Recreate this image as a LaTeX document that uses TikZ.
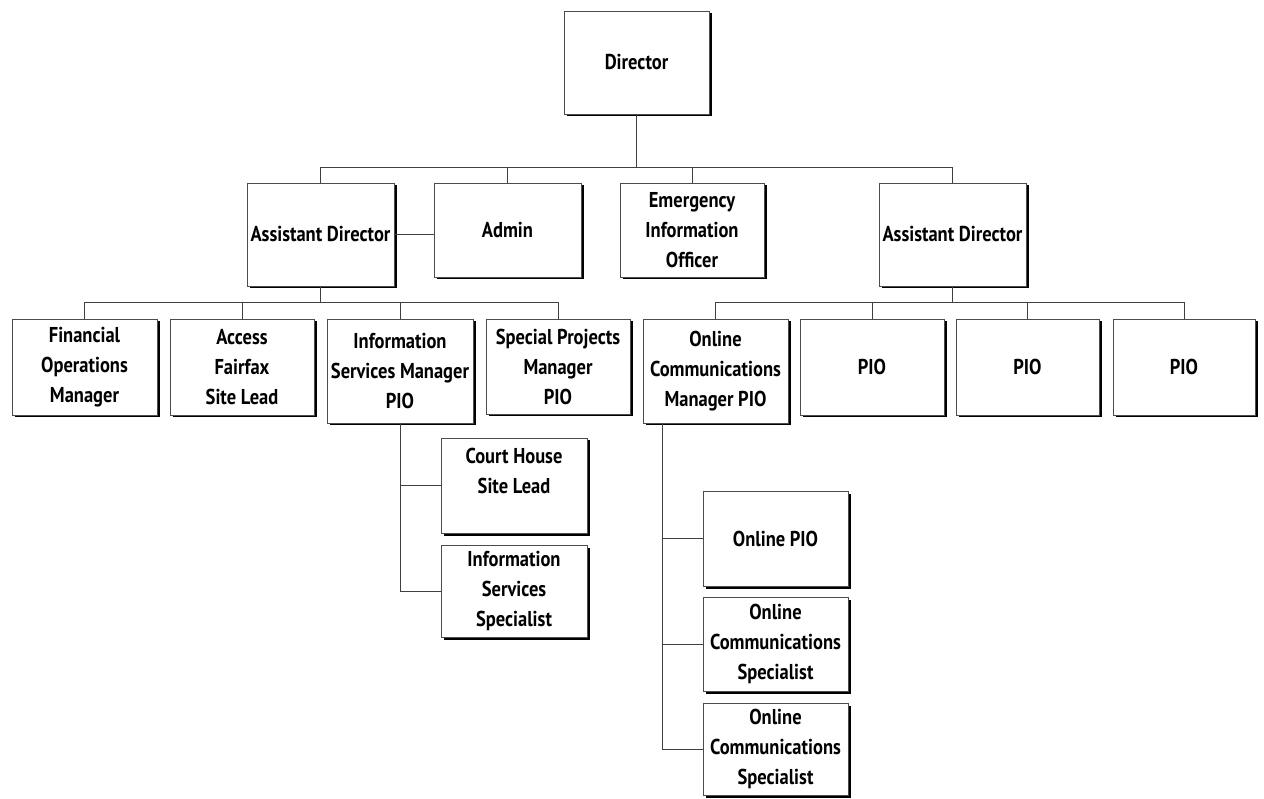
\documentclass[tikz,border=0pt]{standalone}
\usepackage{fontspec}
\setmainfont{PT Sans}[FakeStretch=0.86]
\usepackage{tikz}
\usetikzlibrary{positioning, calc, shadows}

\begin{document}
\begin{tikzpicture}[
  x=1pt, y=-1pt,
  unit/.style={rectangle, draw=black!70, line width=0.8pt, fill=white, align=center, inner sep=0pt, font=\fontsize{21.5}{30}\selectfont\bfseries, drop shadow={shadow xshift=2.5pt, shadow yshift=-2.5pt, fill=black, opacity=1}},
  tall/.style={unit, minimum width=147pt, minimum height=103pt},
  mid/.style={unit, minimum width=145pt, minimum height=95pt},
  deep/.style={unit, minimum width=145pt, minimum height=104pt},
  link/.style={draw=black!75, line width=0.8pt}
]
\useasboundingbox (0,0) rectangle (1264,799);
\node[tall, minimum width=145pt] (dir) at (636.5,62.5) {Director};
\node[tall] (adl) at (320.5,234.5) {Assistant Director};
\node[mid, minimum width=147pt, minimum height=94pt] (admin) at (507.5,230) {Admin};
\node[mid, minimum width=144pt, minimum height=94pt] (eio) at (692,230) {Emergency\\Information\\Officer};
\node[tall] (adr) at (952.5,234.5) {Assistant Director};
\node[mid, minimum height=96pt] (fin) at (84.5,367) {Financial\\Operations\\Manager};
\node[mid, minimum width=144pt, minimum height=96pt] (acc) at (242,367) {Access\\Fairfax\\Site Lead};
\node[deep, minimum width=146pt] (ism) at (400,371) {Information\\Services Manager\\PIO};
\node[mid, minimum width=144pt] (spm) at (558,366.5) {Special Projects\\Manager\\PIO};
\node[deep] (ocm) at (715.5,371) {Online\\Communications\\Manager PIO};
\node[mid, minimum width=144pt, minimum height=96pt] (pioa) at (872,367) {PIO};
\node[mid, minimum width=143pt, minimum height=96pt] (piob) at (1027.5,367) {PIO};
\node[mid, minimum width=142pt, minimum height=96pt] (pioc) at (1184,367) {PIO};
\node[mid, minimum width=146pt] (chs) at (514,485.5) {Court House\\Site Lead\\~};
\node[mid, minimum width=146pt, minimum height=92pt] (iss) at (514,591) {Information\\Services\\Specialist};
\node[mid] (opio) at (775.5,538.5) {Online PIO};
\node[mid, minimum height=94pt] (ocsa) at (775.5,644) {Online\\Communications\\Specialist};
\node[mid, minimum height=92pt] (ocsb) at (775.5,749) {Online\\Communications\\Specialist};
\coordinate (top) at (0,167);
\coordinate (row) at (0,302);
\coordinate (ocmfoot) at ($(ocm.south west)+(20,0)$);
\draw[link] (dir.south) -- (dir.south |- top);
\draw[link] (adl.north) |- (adr.north |- top) -- (adr.north);
\foreach \n in {admin, eio} \draw[link] (\n.north) -- (\n.north |- top);
\draw[link] (adl.east) -- (adl.east -| admin.west);
\draw[link] (adl.south) -- (adl.south |- row);
\draw[link] (fin.north) |- (spm.north |- row) -- (spm.north);
\foreach \n in {acc, ism} \draw[link] (\n.north) -- (\n.north |- row);
\draw[link] (adr.south) -- (adr.south |- row);
\draw[link] (ocm.north) |- (pioc.north |- row) -- (pioc.north);
\foreach \n in {pioa, piob} \draw[link] (\n.north) -- (\n.north |- row);
\draw[link] (ism.south) |- (iss.west);
\draw[link] (ism.south |- chs.west) -- (chs.west);
\draw[link] (ocmfoot) |- (ocsb.west);
\foreach \n in {opio, ocsa} \draw[link] (ocmfoot |- \n.west) -- (\n.west);
\end{tikzpicture}
\end{document}
